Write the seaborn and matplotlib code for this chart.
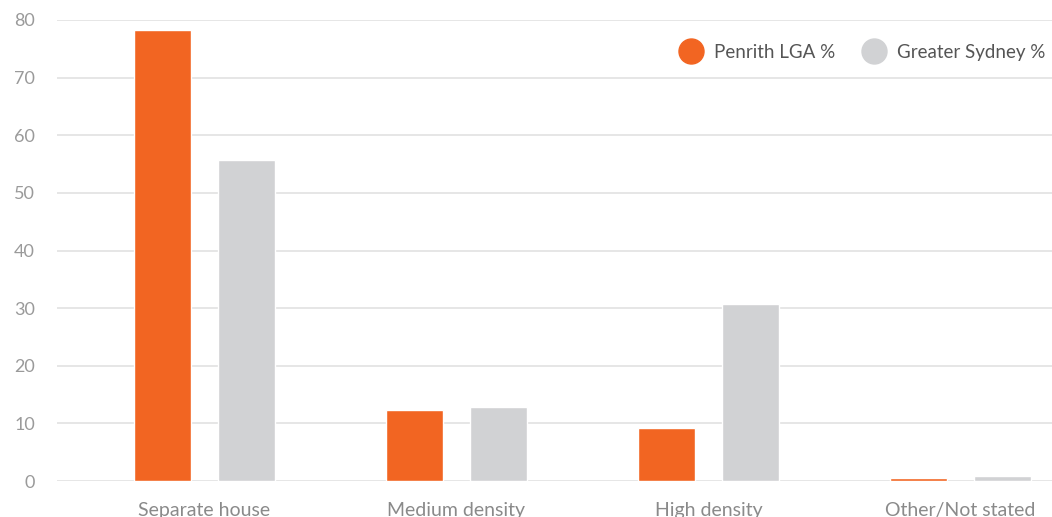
import matplotlib
matplotlib.use('Agg')
import matplotlib.pyplot as plt
from matplotlib.lines import Line2D
import pandas as pd
import seaborn as sns

# Dados do gráfico
categories = ['Separate house', 'Medium density', 'High density', 'Other/Not stated']
penrith = [78.3, 12.3, 9.2, 0.5]
sydney = [55.7, 12.8, 30.7, 0.9]
series_names = ['Penrith LGA %', 'Greater Sydney %']
colors = ['#F26522', '#D1D2D4']

df = pd.DataFrame({
    'category': categories * 2,
    'value': penrith + sydney,
    'series': [series_names[0]] * 4 + [series_names[1]] * 4,
})

sns.set_style('white')
plt.rcParams['font.family'] = ['Lato', 'DejaVu Sans']

fig = plt.figure(figsize=(10.52, 5.17), dpi=100)
ax = fig.add_axes([57 / 1052, 36 / 517, 995 / 1052, 461 / 517])

sns.barplot(data=df, x='category', y='value', hue='series',
            palette=colors, width=0.671, gap=0.326, ax=ax,
            saturation=1, legend=False)

ax.set_ylim(0, 80)
ax.set_xlim(-0.585, 3.363)
ax.set_yticks(range(0, 81, 10))
ax.yaxis.grid(True, color='#e2e2e2', linewidth=1.2)
ax.set_axisbelow(True)
for s in ax.spines.values():
    s.set_visible(False)

ax.set_xlabel('')
ax.set_ylabel('')
ax.tick_params(axis='y', length=0, pad=16, labelsize=13, labelcolor='#9a9a9a')
ax.tick_params(axis='x', length=0, pad=15, labelsize=14, labelcolor='#8a8a8a')

handles = [Line2D([], [], marker='o', linestyle='', markersize=18,
                  markerfacecolor=c, markeredgecolor=c) for c in colors]
ax.legend(handles, series_names, loc='upper right', ncol=2, frameon=False,
          fontsize=13.5, labelcolor='#555555', handletextpad=0.2,
          columnspacing=1.1, bbox_to_anchor=(1.01, 0.985))

plt.savefig('out.png', dpi=100)
